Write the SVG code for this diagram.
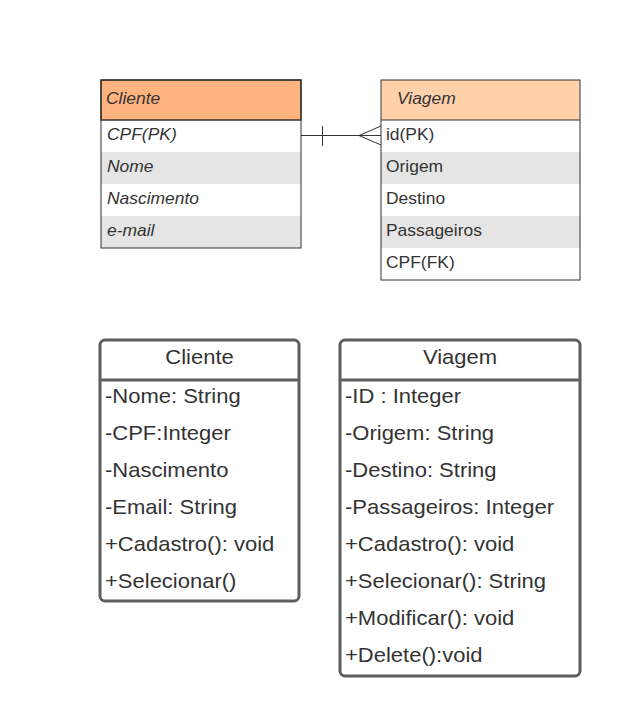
<svg xmlns="http://www.w3.org/2000/svg" width="620" height="716" viewBox="0 0 620 716">
<style>
.er{font-family:"Liberation Sans",Arial,sans-serif;font-size:16px;fill:#333}
.it{font-style:italic}
.uml{font-family:"Liberation Sans",Arial,sans-serif;font-size:20px;fill:#333}
.box{fill:none;stroke:#333;stroke-width:1}
.gray{fill:#e5e5e5}
.ubox{fill:#fff;stroke:#5e5e5e;stroke-width:3}
.line{stroke:#333;stroke-width:1;fill:none}
</style>
<rect width="620" height="716" fill="#fff"/>
<g id="er-cliente">
<rect x="101" y="80" width="200" height="40" fill="#ffb37f"/>
<rect x="101" y="152" width="200" height="32" class="gray"/>
<rect x="101" y="216" width="200" height="32" class="gray"/>
<rect x="101" y="80" width="200" height="168" class="box"/>
<rect x="101" y="80" width="200" height="40" fill="none" stroke="#333" stroke-width="1.5"/>
<text transform="translate(106 104) scale(1.09 1)" class="er it">Cliente</text>
<text transform="translate(107 140) scale(1.09 1)" class="er it">CPF(PK)</text>
<text transform="translate(107 172) scale(1.09 1)" class="er it">Nome</text>
<text transform="translate(107 204) scale(1.09 1)" class="er it">Nascimento</text>
<text transform="translate(107 236) scale(1.09 1)" class="er it">e-mail</text>
</g>
<g id="er-viagem">
<rect x="381" y="80" width="199" height="40" fill="#ffd1ab"/>
<rect x="381" y="152" width="199" height="32" class="gray"/>
<rect x="381" y="216" width="199" height="32" class="gray"/>
<rect x="381" y="80" width="199" height="200" class="box"/>
<line x1="381" y1="120" x2="580" y2="120" class="line"/>
<text transform="translate(397 104) scale(1.09 1)" class="er it">Viagem</text>
<text transform="translate(386 140) scale(1.09 1)" class="er">id(PK)</text>
<text transform="translate(386 172) scale(1.09 1)" class="er">Origem</text>
<text transform="translate(386 204) scale(1.09 1)" class="er">Destino</text>
<text transform="translate(386 236) scale(1.09 1)" class="er">Passageiros</text>
<text transform="translate(386 268) scale(1.09 1)" class="er">CPF(FK)</text>
</g>
<g id="connectors">
<line x1="301" y1="135.5" x2="381" y2="135.5" class="line"/>
<line x1="322.5" y1="126" x2="322.5" y2="146" class="line"/>
<line x1="359" y1="135.5" x2="381" y2="126" class="line"/>
<line x1="359" y1="135.5" x2="381" y2="145" class="line"/>
</g>
<g id="uml-cliente">
<rect x="100" y="340" width="199" height="261" rx="5" class="ubox"/>
<line x1="100" y1="380" x2="299" y2="380" stroke="#5e5e5e" stroke-width="3"/>
<text transform="translate(199.5 364) scale(1.1 1)" class="uml" text-anchor="middle">Cliente</text>
<text transform="translate(105 403) scale(1.1 1)" class="uml">-Nome: String</text>
<text transform="translate(105 440) scale(1.1 1)" class="uml">-CPF:Integer</text>
<text transform="translate(105 477) scale(1.1 1)" class="uml">-Nascimento</text>
<text transform="translate(105 514) scale(1.1 1)" class="uml">-Email: String</text>
<text transform="translate(105 551) scale(1.1 1)" class="uml">+Cadastro(): void</text>
<text transform="translate(105 588) scale(1.1 1)" class="uml">+Selecionar()</text>
</g>
<g id="uml-viagem">
<rect x="340" y="340" width="240" height="336" rx="5" class="ubox"/>
<line x1="340" y1="380" x2="580" y2="380" stroke="#5e5e5e" stroke-width="3"/>
<text transform="translate(460 364) scale(1.1 1)" class="uml" text-anchor="middle">Viagem</text>
<text transform="translate(345 403) scale(1.1 1)" class="uml">-ID : Integer</text>
<text transform="translate(345 440) scale(1.1 1)" class="uml">-Origem: String</text>
<text transform="translate(345 477) scale(1.1 1)" class="uml">-Destino: String</text>
<text transform="translate(345 514) scale(1.1 1)" class="uml">-Passageiros: Integer</text>
<text transform="translate(345 551) scale(1.1 1)" class="uml">+Cadastro(): void</text>
<text transform="translate(345 588) scale(1.1 1)" class="uml">+Selecionar(): String</text>
<text transform="translate(345 625) scale(1.1 1)" class="uml">+Modificar(): void</text>
<text transform="translate(345 662) scale(1.1 1)" class="uml">+Delete():void</text>
</g>
</svg>
